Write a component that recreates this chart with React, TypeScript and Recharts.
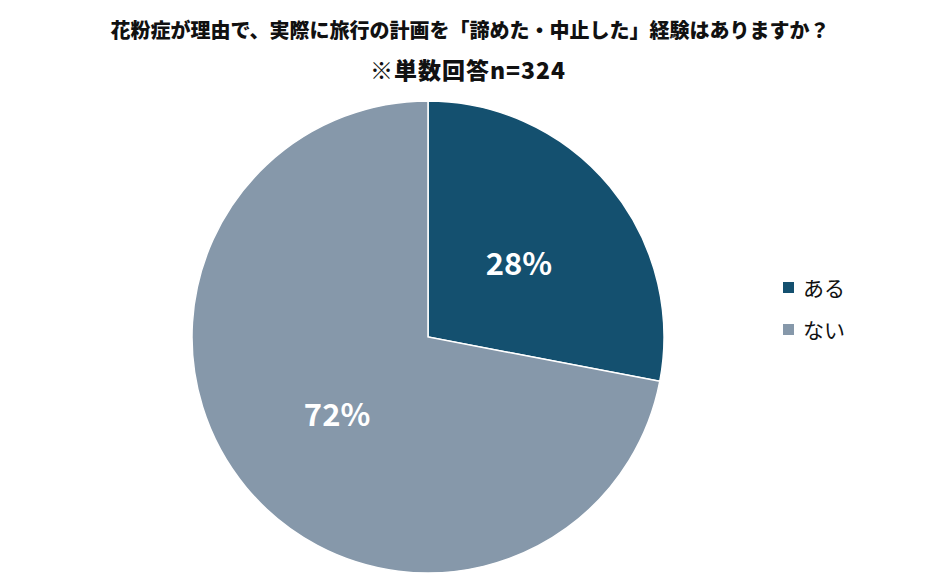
import React from "react";
import { PieChart, Pie, Cell } from "recharts";

// 回答の内訳（％）
const answers = ["ある", "ない"];
const shares = [28, 72];
const sliceColors = ["#14506f", "#8698aa"];

const titleLine1 = "花粉症が理由で、実際に旅行の計画を「諦めた・中止した」経験はありますか？";
const titleLine2 = "※単数回答n=324";

const data = answers.map((name, i) => ({ name, value: shares[i] }));

const RAD = Math.PI / 180;
const font = '"Noto Sans CJK JP", "Noto Sans", sans-serif';

const renderLabel = (props: any) => {
  const { cx, cy, midAngle, outerRadius, value } = props;
  const r = outerRadius * 0.5;
  const x = cx + r * Math.cos(-midAngle * RAD);
  const y = cy + r * Math.sin(-midAngle * RAD);
  return (
    <text
      x={x}
      y={y}
      fill="#ffffff"
      textAnchor="middle"
      dominantBaseline="central"
      fontFamily={font}
      fontWeight="bold"
      fontSize={31}
    >
      {`${value}%`}
    </text>
  );
};

export default function App() {
  return (
    <div style={{ position: "absolute", left: 0, top: 0, width: 940, height: 587, background: "#fff", fontFamily: font }}>
      <div style={{ position: "absolute", left: 0, width: 940, top: 15, textAlign: "center", fontSize: 20, fontWeight: 900, color: "#111", lineHeight: "30px" }}>
        {titleLine1}
      </div>
      <div style={{ position: "absolute", left: 0, width: 936, top: 54, textAlign: "center", fontSize: 23, fontWeight: 900, color: "#111", lineHeight: "30px", letterSpacing: 1 }}>
        {titleLine2}
      </div>

      <div style={{ position: "absolute", left: 0, top: 0 }}>
        <PieChart width={940} height={587} margin={{ top: 0, right: 0, bottom: 0, left: 0 }}>
          <Pie
            data={data}
            dataKey="value"
            nameKey="name"
            cx={428}
            cy={337}
            outerRadius={236}
            startAngle={90}
            endAngle={-270}
            stroke="#ffffff"
            strokeWidth={1.5}
            label={renderLabel}
            labelLine={false}
            isAnimationActive={false}
          >
            {data.map((d, i) => (
              <Cell key={`cell-${i}`} fill={sliceColors[i]} />
            ))}
          </Pie>
        </PieChart>
      </div>

      {/* 凡例 */}
      <div style={{ position: "absolute", left: 783, top: 272 }}>
        {answers.map((a, i) => (
          <div key={a} style={{ display: "flex", alignItems: "center", height: 30, marginBottom: 12 }}>
            <span style={{ width: 11, height: 11, background: sliceColors[i], display: "inline-block", marginRight: 9 }} />
            <span style={{ fontSize: 21, color: "#111" }}>{a}</span>
          </div>
        ))}
      </div>
    </div>
  );
}
